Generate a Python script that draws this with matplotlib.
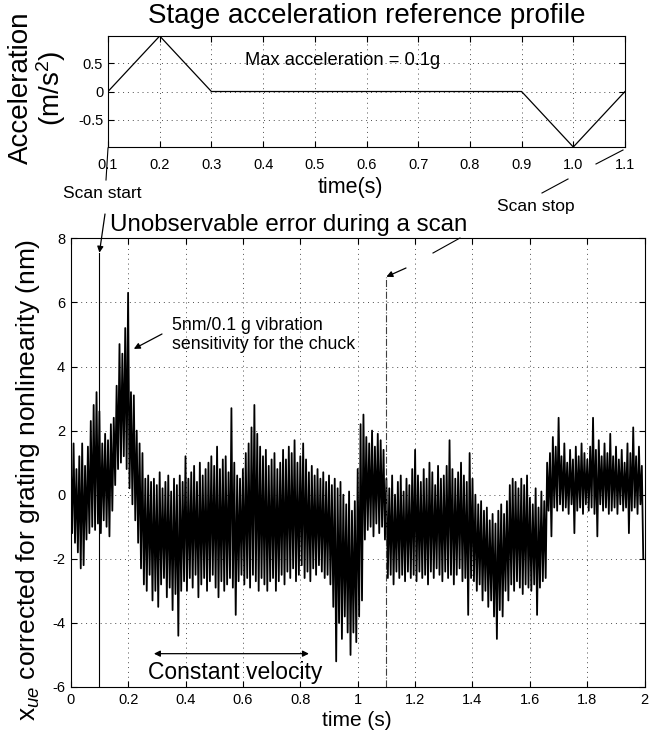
import numpy as np
import matplotlib.pyplot as plt
from matplotlib.lines import Line2D

plt.rcParams["font.family"] = ["Liberation Sans", "DejaVu Sans"]
plt.rcParams["mathtext.fontset"] = "custom"
plt.rcParams["mathtext.rm"] = "Liberation Sans"
plt.rcParams["mathtext.it"] = "Liberation Sans:italic"
plt.rcParams["axes.unicode_minus"] = False

W, H = 658, 732

# stage acceleration reference profile (m/s^2), peak 0.1 g
prof_t = [0.1, 0.2, 0.3, 0.9, 1.0, 1.1]
prof_a = [0.0, 0.981, 0.0, 0.0, -0.981, 0.0]
top_xticks = [0.1, 0.2, 0.3, 0.4, 0.5, 0.6, 0.7, 0.8, 0.9, 1.0, 1.1]
top_yticks = [-0.5, 0.0, 0.5]

# x_ue error (nm): upper and lower extremes read per 10 ms bin, 0 .. 2 s
dt = 0.01
err_hi = [
    1.3, 1.6, 0.8, 1.2, 1.6, 0.9, 1.5, 2.3, 2.8, 3.2,
    2.6, 1.6, 1.9, 1.7, 2.2, 2.4, 3.4, 4.7, 4.4, 5.2,
    6.3, 3.2, 3.1, 2.0, 1.6, 1.3, 0.5, 0.6, 0.4, 0.5,
    0.3, 0.7, 0.2, 0.4, 0.6, 0.1, 0.5, 0.3, 0.6, 0.4,
    1.2, 0.5, 0.7, 0.9, 0.4, 1.0, 0.6, 0.8, 1.0, 1.2,
    0.9, 1.5, 0.8, 1.1, 1.2, 0.7, 2.7, 1.0, 0.6, 0.5,
    0.8, 1.3, 1.6, 2.1, 2.8, 1.9, 1.5, 1.2, 1.4, 0.9,
    1.1, 1.3, 0.8, 1.0, 1.4, 1.1, 1.5, 1.3, 1.7, 1.0,
    1.2, 1.6, 1.1, 0.7, 0.9, 0.6, 0.8, 0.5, 0.7, 0.4,
    0.6, 0.3, 0.5, 0.2, 0.4, 0.0, -0.3, 0.1, -0.5, -0.2,
    0.8, 2.2, 2.5, 1.8, 1.6, 2.0, 1.5, 1.9, 1.7, 1.4,
    0.5, 0.2, 0.6, 0.0, 0.4, 0.6, 0.1, 0.5, 0.3, 0.8,
    1.4, 0.6, 0.4, 0.8, 0.5, 1.0, 0.7, 0.3, 0.9, 0.5,
    0.6, 0.9, 1.7, 0.8, 0.5, 0.7, 1.0, 0.6, 0.4, 1.3,
    0.5, 0.0, -0.3, -0.2, -0.5, -0.4, -0.8, -0.6, -0.9, -0.5,
    -0.3, -0.6, -0.2, 0.3, 0.5, 0.4, 0.2, 0.5, 0.3, 0.6,
    -0.1, -0.3, 0.2, -0.4, 0.1, -0.2, 1.0, 1.3, 1.8, 1.5,
    2.4, 1.2, 1.6, 1.0, 1.4, 1.1, 1.5, 1.2, 1.6, 1.3,
    1.1, 1.5, 2.4, 1.4, 1.7, 1.2, 1.6, 1.3, 1.9, 1.2,
    1.5, 1.1, 1.4, 1.0, 1.6, 1.3, 2.1, 1.2, 1.5, 0.9,
]
err_lo = [
    -1.2, -1.5, -1.8, -2.3, -2.2, -1.4, -1.2, -1.0, -1.1, -0.9,
    -1.2, -0.8, -1.0, -1.3, -0.5, 0.3, 0.8, 1.0, 1.2, 0.8,
    0.2, -0.3, -0.8, -1.5, -2.3, -2.8, -3.0, -2.5, -3.3, -3.0,
    -3.5, -2.8, -2.6, -3.2, -2.9, -3.6, -3.1, -4.4, -3.0, -2.7,
    -3.0, -2.6, -2.9, -2.5, -3.2, -2.8, -2.6, -3.0, -2.7, -2.5,
    -2.9, -3.2, -2.7, -3.0, -2.8, -2.6, -2.9, -3.75, -2.7, -2.5,
    -2.8, -2.6, -2.9, -2.5, -2.7, -3.0, -2.6, -2.8, -3.0, -2.7,
    -2.6, -3.0, -2.7, -2.5, -2.8, -2.4, -2.6, -2.3, -2.7, -2.5,
    -2.2, -2.6, -2.4, -2.7, -2.3, -2.5, -2.2, -2.4, -2.6, -2.5,
    -2.8, -3.5, -5.2, -4.0, -4.5, -3.8, -4.3, -5.0, -4.3, -4.6,
    -3.8, -3.3, -1.4, -1.1, -1.0, -1.3, -0.9, -1.2, -1.0, -1.4,
    -2.6, -2.5, -2.8, -2.4, -2.6, -2.5, -2.7, -2.4, -2.6, -2.5,
    -2.7, -2.4, -2.6, -2.5, -2.8, -2.4, -2.6, -2.3, -2.5, -2.7,
    -2.4, -2.6, -2.5, -2.8, -2.5, -2.3, -2.7, -2.6, -3.75, -2.6,
    -2.7, -3.0, -2.8, -3.3, -3.0, -3.5, -3.3, -3.8, -4.5, -3.6,
    -3.8, -3.0, -3.3, -2.8, -3.0, -2.7, -2.9, -3.1, -2.8, -2.9,
    -3.0, -2.8, -3.75, -2.9, -2.7, -2.6, -0.5, -1.3, -0.4, -0.5,
    -0.3, -0.5, -0.4, -0.6, -0.3, -1.2, -0.5, -0.4, -0.6, -0.3,
    -0.5, -0.4, -0.6, -1.3, -0.3, -0.5, -0.4, -0.6, -0.5, -0.4,
    -0.6, -0.3, -0.5, -0.4, -1.2, -0.5, -0.4, -0.6, -0.3, -2.0,
]
main_xticks = [0, 0.2, 0.4, 0.6, 0.8, 1.0, 1.2, 1.4, 1.6, 1.8, 2.0]
main_yticks = [-6, -4, -2, 0, 2, 4, 6, 8]


def fx(px):
    return px / W


def fy(py):
    return 1 - py / H


def seg(fig, x0, y0, x1, y1):
    fig.add_artist(Line2D([fx(x0), fx(x1)], [fy(y0), fy(y1)], color="k", lw=0.8))


grid_kw = dict(color="0.3", linestyle=(0, (1, 4)), linewidth=0.7)
arrow_kw = dict(arrowstyle="-|>", color="k", lw=0.9, mutation_scale=9, shrinkA=0, shrinkB=0)

fig = plt.figure(figsize=(W / 100, H / 100), dpi=100)

# ---- top: acceleration profile
ax1 = fig.add_axes([fx(108), fy(147), 517 / W, 111 / H])
ax1.plot(prof_t, prof_a, color="k", lw=0.9)
ax1.set_xlim(0.1, 1.1)
ax1.set_ylim(-0.981, 0.981)
ax1.set_xticks(top_xticks)
ax1.set_xticklabels([f"{v:.1f}" for v in top_xticks])
ax1.set_yticks(top_yticks)
ax1.set_yticklabels([f"{v:g}" for v in top_yticks])
ax1.tick_params(direction="in", top=True, right=True, length=4, labelsize=10.5)
ax1.tick_params(axis="x", pad=8)
ax1.tick_params(axis="y", pad=3.5)
ax1.grid(True, **grid_kw)
ax1.text(0.365, 0.55, "Max acceleration = 0.1g", fontsize=13.2, va="center")

fig.text(fx(367), fy(16), "Stage acceleration reference profile", fontsize=20,
         ha="center", va="center")
fig.text(fx(38), fy(88), "Acceleration\n(m/s$^2$)", fontsize=20, rotation=90,
         ha="center", va="center", linespacing=1.0)
fig.text(fx(350), fy(188), "time(s)", fontsize=15.5, ha="center", va="center")

# ---- main: unobservable error
ax2 = fig.add_axes([fx(70.7), fy(687), 574 / W, 448.7 / H])
t_hi = np.arange(len(err_hi)) * dt
t = np.empty(2 * len(err_hi))
v = np.empty(2 * len(err_hi))
t[0::2], t[1::2] = t_hi, t_hi + dt / 2
v[0::2], v[1::2] = err_hi, err_lo
ax2.plot(t, v, color="k", lw=1.3)
ax2.set_xlim(0, 2)
ax2.set_ylim(-6, 8)
ax2.set_xticks(main_xticks)
ax2.set_xticklabels([f"{x:g}" for x in main_xticks])
ax2.set_yticks(main_yticks)
ax2.tick_params(direction="in", top=True, right=True, length=4, labelsize=10.5)
ax2.tick_params(axis="x", pad=4)
ax2.tick_params(axis="y", pad=4)
ax2.grid(True, **grid_kw)

# scan start / stop markers
ax2.plot([0.1, 0.1], [-6, 7.55], color="k", lw=0.8)
ax2.plot([1.1, 1.1], [-6, 6.8], color="0.25", lw=0.8, ls="-.")

ax2.annotate("", xy=(0.1, 7.55), xycoords="data",
             xytext=(fx(105), fy(214)), textcoords="figure fraction",
             arrowprops=arrow_kw, annotation_clip=False)
ax2.annotate("", xy=(1.1, 6.8), xycoords="data",
             xytext=(fx(406), fy(268)), textcoords="figure fraction",
             arrowprops=arrow_kw, annotation_clip=False)
ax2.annotate("", xy=(0.22, 4.55), xycoords="data",
             xytext=(fx(162), fy(334)), textcoords="figure fraction",
             arrowprops=arrow_kw)
ax2.annotate("", xy=(0.29, -4.96), xytext=(0.83, -4.96),
             arrowprops=dict(arrowstyle="<|-|>", color="k", lw=0.9,
                             mutation_scale=9, shrinkA=0, shrinkB=0))

seg(fig, 108, 148, 106, 180)
seg(fig, 433, 253, 460, 238)
seg(fig, 542, 193, 568, 179)
seg(fig, 596, 164, 623, 150)

fig.text(fx(63), fy(193), "Scan start", fontsize=12.5, va="center")
fig.text(fx(497), fy(206), "Scan stop", fontsize=12.5, va="center")
fig.text(fx(110), fy(225), "Unobservable error during a scan", fontsize=17.4, va="center")
fig.text(fx(172), fy(335), "5nm/0.1 g vibration\nsensitivity for the chuck",
         fontsize=12.8, va="center", linespacing=1.1)
fig.text(fx(148), fy(672), "Constant velocity", fontsize=16.5, va="center")
fig.text(fx(357), fy(720), "time (s)", fontsize=15, ha="center", va="center")
fig.text(fx(28), fy(480), r"x$_{ue}$ corrected for grating nonlinearity (nm)",
         fontsize=19, rotation=90, ha="center", va="center")

fig.savefig("out.png", dpi=100)
